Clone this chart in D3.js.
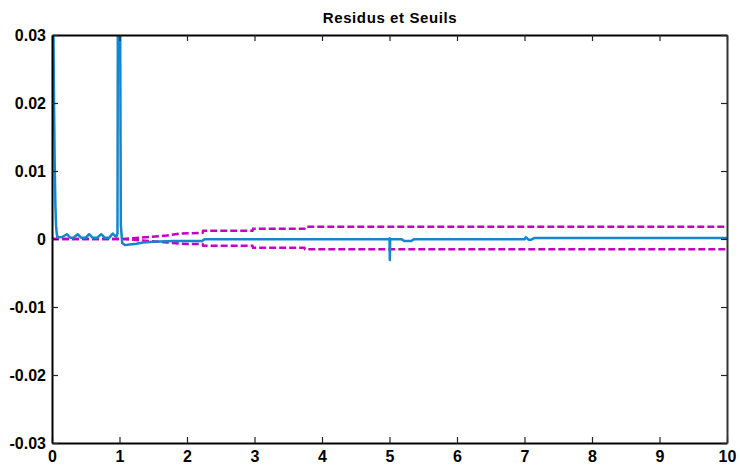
<!DOCTYPE html>
<html>
<head>
<meta charset="utf-8">
<script src="https://cdn.jsdelivr.net/npm/d3@7"></script>
<style>
  html, body { margin: 0; padding: 0; background: #fff; }
  svg { display: block; }
  text { font-family: "Liberation Sans", Arial, Helvetica, sans-serif; font-weight: bold; }
</style>
</head>
<body>
<svg id="chart" width="740" height="472"></svg>
<script>
// ---- data ----
const titleText = "Residus et Seuils";
const xTicks = [0, 1, 2, 3, 4, 5, 6, 7, 8, 9, 10];
const yTicks = [-0.03, -0.02, -0.01, 0, 0.01, 0.02, 0.03];
const yTickLabels = ["-0.03", "-0.02", "-0.01", "0", "0.01", "0.02", "0.03"];

// residual (blue)
const resTime = [0, 0.01, 0.02, 0.03, 0.04, 0.05, 0.06, 0.07, 0.08, 0.1,
  0.15, 0.22, 0.27, 0.32, 0.38, 0.43, 0.5, 0.55, 0.6, 0.67, 0.73, 0.78, 0.85, 0.9, 0.95,
  0.97, 0.98, 1.0, 1.02, 1.04, 1.08, 1.15, 1.25, 1.35, 1.45, 1.6, 1.8, 2.0, 2.22, 2.26,
  4.99, 5.0, 5.005, 5.01, 5.18, 5.22, 5.32, 5.36,
  7.0, 7.02, 7.06, 7.1, 7.15, 10];
const resValue = [0.06, 0.045, 0.032, 0.02, 0.011, 0.005, 0.002, 0.0008, 0.0003, 0.00025,
  0.0003, 0.0007, 0.0002, 0.0002, 0.0007, 0.0002, 0.0002, 0.0007, 0.0002, 0.0002, 0.0007, 0.0002, 0.0002, 0.0008, 0.0003,
  0.0008, 0.06, 0.06, 0.002, -0.0006, -0.0009, -0.0008, -0.0007, -0.0005, -0.00045, -0.00035, -0.0003, -0.0003, -0.0003, -0.00005,
  -0.00005, 0.0001, -0.0031, -0.00005, -0.00005, -0.0003, -0.0003, -0.00005,
  -0.00005, 0.00025, -0.0001, -0.0001, 0.00015, 0.00015];

// thresholds (magenta dashed)
const thrTime = [0, 1.0, 1.2, 1.45, 1.7, 1.9, 2.23, 2.24, 2.97, 2.98, 3.74, 3.75, 10];
const thrUpper = [0, 0, 0.0001, 0.0003, 0.0005, 0.0008, 0.0009, 0.0012, 0.0012, 0.0015, 0.0015, 0.0018, 0.0018];
const thrLower = [0, 0, -0.0001, -0.0003, -0.0005, -0.0007, -0.00075, -0.001, -0.001, -0.0013, -0.0013, -0.0015, -0.0015];

// ---- layout ----
const svg = d3.select("#chart");
const m = { left: 52, right: 727, top: 35, bottom: 443 };
const x = d3.scaleLinear().domain([0, 10]).range([m.left, m.right]);
const y = d3.scaleLinear().domain([-0.03, 0.03]).range([m.bottom, m.top]);

svg.append("defs").append("clipPath").attr("id", "clip")
  .append("rect").attr("x", m.left).attr("y", m.top)
  .attr("width", m.right - m.left).attr("height", m.bottom - m.top);

const plot = svg.append("g").attr("clip-path", "url(#clip)");

const lineRes = d3.line().x((d, i) => x(resTime[i])).y(d => y(d));
const lineThr = d3.line().x((d, i) => x(thrTime[i])).y(d => y(d));

[thrUpper, thrLower].forEach(arr => {
  plot.append("path").attr("d", lineThr(arr))
    .attr("fill", "none").attr("stroke", "#c400c4")
    .attr("stroke-width", 2.5).attr("stroke-dasharray", "7,3");
});

plot.append("path").attr("d", lineRes(resValue))
  .attr("fill", "none").attr("stroke", "#1585cc")
  .attr("stroke-width", 2.5).attr("stroke-linejoin", "round");

// ---- axes ----
const fmtY = d => yTickLabels[yTicks.indexOf(d)];
const axB = svg.append("g").attr("transform", `translate(0,${m.bottom})`)
  .call(d3.axisBottom(x).tickValues(xTicks).tickSizeInner(-6).tickSizeOuter(0).tickPadding(8).tickFormat(d3.format("d")));
const axT = svg.append("g").attr("transform", `translate(0,${m.top})`)
  .call(d3.axisTop(x).tickValues(xTicks).tickSizeInner(-6).tickSizeOuter(0).tickFormat(""));
const axL = svg.append("g").attr("transform", `translate(${m.left},0)`)
  .call(d3.axisLeft(y).tickValues(yTicks).tickSizeInner(-6).tickSizeOuter(0).tickPadding(6).tickFormat(fmtY));
const axR = svg.append("g").attr("transform", `translate(${m.right},0)`)
  .call(d3.axisRight(y).tickValues(yTicks).tickSizeInner(-6).tickSizeOuter(0).tickFormat(""));

[axB, axT, axL, axR].forEach(g => {
  g.select(".domain").attr("stroke", "#000").attr("stroke-width", 2);
  g.selectAll(".tick line").attr("stroke", "#222").attr("stroke-width", 1.2);
  g.selectAll(".tick text").attr("fill", "#000").style("font-size", "16px").style("font-weight", "bold")
    .style("font-family", '"Liberation Sans", Arial, sans-serif');
});
axR.select(".domain").attr("stroke", "#333");

svg.append("text").attr("x", 390).attr("y", 23).attr("text-anchor", "middle")
  .style("font-size", "15px").style("letter-spacing", "0.6px").attr("fill", "#000").text(titleText);
</script>
</body>
</html>
